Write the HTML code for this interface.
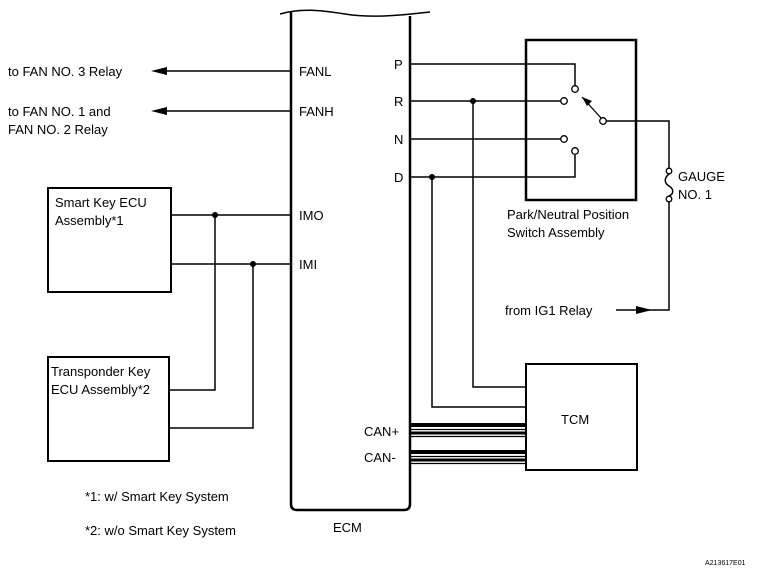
<!DOCTYPE html>
<html><head><style>
body{margin:0;background:#fff}
svg{display:block}
text{font-family:"Liberation Sans",Arial,sans-serif;font-size:13px;fill:#000}
</style></head><body>
<svg width="763" height="578" viewBox="0 0 763 578" xmlns="http://www.w3.org/2000/svg">
<g fill="none" stroke="#000">
<!-- ECM -->
<path d="M291 12 L291 504 Q291 510 297 510 L404 510 Q410 510 410 504 L410 16" stroke-width="2.5"/>
<path d="M280 14 C300 8 320 10 345 14 C370 18 395 16 430 12" stroke-width="1.5"/>
<!-- fan lines -->
<line x1="165" y1="71" x2="291" y2="71" stroke-width="1.5"/>
<line x1="165" y1="111" x2="291" y2="111" stroke-width="1.5"/>
<!-- smart key box -->
<rect x="48" y="188" width="123" height="104" stroke-width="2"/>
<rect x="48" y="357" width="121" height="104" stroke-width="2"/>
<line x1="171" y1="215" x2="291" y2="215" stroke-width="1.5"/>
<line x1="171" y1="264" x2="291" y2="264" stroke-width="1.5"/>
<polyline points="169,390 215,390 215,215" stroke-width="1.5"/>
<polyline points="169,428 253,428 253,264" stroke-width="1.5"/>
<!-- switch box -->
<rect x="526" y="40" width="110" height="160" stroke-width="2.5"/>
<polyline points="410,64 575,64 575,86" stroke-width="1.5"/>
<line x1="410" y1="101" x2="561" y2="101" stroke-width="1.5"/>
<line x1="410" y1="139" x2="561" y2="139" stroke-width="1.5"/>
<polyline points="410,177 575,177 575,155" stroke-width="1.5"/>
<circle cx="575" cy="89" r="3.3" stroke-width="1.3" fill="#fff"/>
<circle cx="564" cy="101" r="3.3" stroke-width="1.3" fill="#fff"/>
<circle cx="564" cy="139" r="3.3" stroke-width="1.3" fill="#fff"/>
<circle cx="575" cy="151" r="3.3" stroke-width="1.3" fill="#fff"/>
<circle cx="603" cy="121" r="3.3" stroke-width="1.3" fill="#fff"/>
<line x1="601" y1="118" x2="582" y2="97" stroke-width="1.3"/>
<polyline points="606,121 669,121 669,168" stroke-width="1.5"/>
<path d="M669 174 C664 178 664 183 669 186 C674 189 674 194 669 196" stroke-width="1.5"/>
<circle cx="669" cy="171" r="2.8" stroke-width="1.3" fill="#fff"/>
<circle cx="669" cy="199" r="2.8" stroke-width="1.3" fill="#fff"/>
<polyline points="669,202 669,310 616,310" stroke-width="1.5"/>
<!-- TCM -->
<rect x="526" y="364" width="111" height="106" stroke-width="2"/>
<polyline points="473,101 473,387 526,387" stroke-width="1.5"/>
<polyline points="432,177 432,407 526,407" stroke-width="1.5"/>
<!-- CAN -->
<line x1="410" y1="425" x2="526" y2="425" stroke-width="4"/>
<line x1="410" y1="429.5" x2="526" y2="429.5" stroke-width="1.2"/>
<line x1="410" y1="433" x2="526" y2="433" stroke-width="3"/>
<line x1="410" y1="436.5" x2="526" y2="436.5" stroke-width="1.2"/>
<line x1="410" y1="452" x2="526" y2="452" stroke-width="4"/>
<line x1="410" y1="456.5" x2="526" y2="456.5" stroke-width="1.2"/>
<line x1="410" y1="460" x2="526" y2="460" stroke-width="3"/>
<line x1="410" y1="463.5" x2="526" y2="463.5" stroke-width="1.2"/>
</g>
<g fill="#000">
<polygon points="151,71 167,67 167,75"/>
<polygon points="151,111 167,107 167,115"/>
<polygon points="652,310 636,306 636,314"/>
<circle cx="215" cy="215" r="3"/>
<circle cx="253" cy="264" r="3"/>
<circle cx="473" cy="101" r="3"/>
<circle cx="432" cy="177" r="3"/>
<polygon points="582,97 592,101 587,106"/>
</g>
<text x="8" y="76">to FAN NO. 3 Relay</text>
<text x="8" y="116">to FAN NO. 1 and</text>
<text x="8" y="134">FAN NO. 2 Relay</text>
<text x="299" y="76">FANL</text>
<text x="299" y="116">FANH</text>
<text x="299" y="220">IMO</text>
<text x="299" y="269">IMI</text>
<text x="394" y="69">P</text>
<text x="394" y="106">R</text>
<text x="394" y="144">N</text>
<text x="394" y="182">D</text>
<text x="55" y="207">Smart Key ECU</text>
<text x="55" y="225">Assembly*1</text>
<text x="51" y="376">Transponder Key</text>
<text x="51" y="394">ECU Assembly*2</text>
<text x="507" y="219">Park/Neutral Position</text>
<text x="507" y="237">Switch Assembly</text>
<text x="678" y="181">GAUGE</text>
<text x="678" y="199">NO. 1</text>
<text x="505" y="315">from IG1 Relay</text>
<text x="561" y="424">TCM</text>
<text x="364" y="436">CAN+</text>
<text x="364" y="462">CAN-</text>
<text x="333" y="532">ECM</text>
<text x="85" y="501">*1: w/ Smart Key System</text>
<text x="85" y="535">*2: w/o Smart Key System</text>
<text x="705" y="565" style="font-size:7px">A213617E01</text>
</svg>
</body></html>
